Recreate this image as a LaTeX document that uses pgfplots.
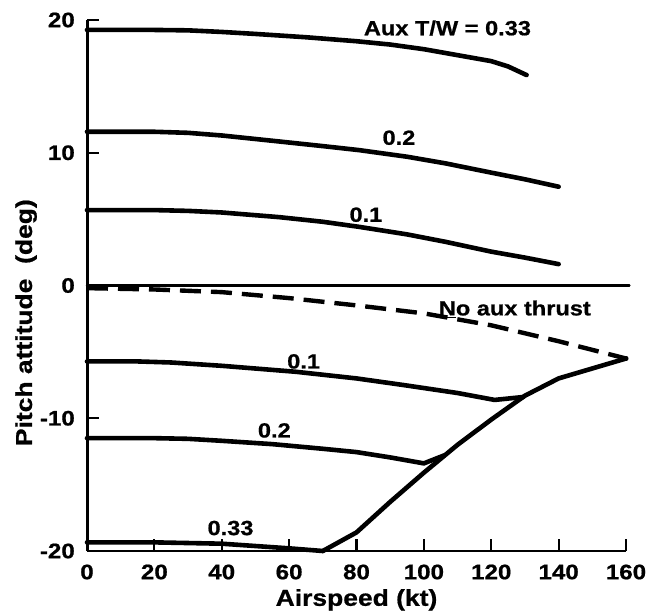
\documentclass[border=0pt]{standalone}
\usepackage{fontspec}
\setmainfont{Liberation Sans}[FakeStretch=1.15, BoldFeatures={FakeBold=0.8}]
\usepackage{pgfplots}
\pgfplotsset{compat=1.18}
\newcommand{\lbl}{\bfseries\fontsize{20.5}{23}\selectfont}
\newcommand{\tlbl}{\bfseries\fontsize{21}{24}\selectfont}
\newcommand{\albl}{\bfseries\fontsize{23}{26}\selectfont}
\begin{document}
\begin{tikzpicture}[x=1pt,y=1pt]
\useasboundingbox (0,0) rectangle (663,612);
\begin{axis}[
  at={(87pt,61pt)}, anchor=south west,
  scale only axis, width=539pt, height=531pt,
  xmin=0, xmax=160, ymin=-20, ymax=20,
  clip=false,
  axis x line*=bottom, axis y line*=left,
  x axis line style={line width=2.5pt,-},
  y axis line style={line width=3pt,-},
  xtick={0,20,40,60,80,100,120,140,160},
  xticklabels={0,20,40,60,80,100,120,140,160},
  ytick={-20,-10,0,10,20},
  yticklabels={-20,-10,0,10,20},
  tick align=inside,
  major tick length=12pt,
  tick style={line width=2.2pt, black},
  xticklabel style={font=\tlbl, anchor=center, inner sep=0pt, yshift=-21pt},
  yticklabel style={font=\tlbl, anchor=east, inner sep=0pt, xshift=-12pt},
  xlabel={Airspeed (kt)},
  ylabel={Pitch attitude\ \ (deg)},
  xlabel style={font=\albl, at={(axis description cs:0.5,-0.092)}, anchor=center},
  ylabel style={font=\albl, at={(axis description cs:-0.113,0.43)}, anchor=center},
  every axis plot/.append style={line join=round, line cap=round},
]
% zero line
\addplot[black, line width=2.5pt] coordinates {(0,0) (161,0)};
% upper curves
\addplot[black, line width=4.6pt] coordinates {(0,19.25) (20,19.25) (30,19.22) (40,19.1) (50,18.95) (65,18.7) (80,18.4) (90,18.15) (100,17.8) (110,17.35) (120,16.9) (125,16.5) (130.5,15.85)};
\addplot[black, line width=4.6pt] coordinates {(0,11.58) (20,11.58) (30,11.5) (40,11.3) (57,10.85) (70,10.5) (80.7,10.2) (95,9.7) (106.4,9.2) (120,8.5) (130,8.0) (140,7.44)};
\addplot[black, line width=4.6pt] coordinates {(0,5.68) (20,5.68) (30,5.62) (40,5.5) (57,5.15) (70,4.8) (80.7,4.42) (95,3.85) (106.4,3.29) (120,2.55) (130,2.1) (140,1.61)};
% no aux thrust
\addplot[black, line width=4.4pt, line cap=butt, dash pattern=on 21pt off 10pt] coordinates {(0,-0.2) (20,-0.3) (40,-0.5) (60,-0.95) (80,-1.5) (100,-2.1) (120,-3.0) (140,-4.2) (160,-5.5)};
\addplot[black, only marks, mark=o, mark size=2pt, line width=1pt] coordinates {(160,-5.5)};
% envelope
\addplot[black, line width=4.6pt] coordinates {(70,-20) (80,-18.6) (90,-16.3) (100,-14.1) (110,-12.0) (120,-10.1) (130,-8.3) (140,-7.0) (160,-5.5)};
% lower curves
\addplot[black, line width=4.6pt] coordinates {(0,-5.72) (15,-5.72) (25,-5.8) (40,-6.05) (62,-6.5) (80,-7.0) (94,-7.5) (110,-8.1) (121,-8.62) (129.5,-8.4)};
\addplot[black, line width=4.6pt] coordinates {(0,-11.5) (20,-11.5) (30,-11.55) (40,-11.7) (55,-11.95) (70,-12.3) (80,-12.55) (90,-12.95) (100,-13.4) (106,-12.8)};
\addplot[black, line width=4.6pt] coordinates {(0,-19.35) (20,-19.35) (40,-19.45) (60,-19.8) (70,-20)};
% labels
\node[anchor=base, font=\lbl] at (axis cs:107,18.85) {Aux T/W = 0.33};
\node[anchor=base, font=\lbl] at (axis cs:92.6,10.6) {0.2};
\node[anchor=base, font=\lbl] at (axis cs:82.8,4.8) {0.1};
\node[anchor=base, font=\lbl] at (axis cs:127,-2.25) {\underline{N}o aux thrust};
\node[anchor=base, font=\lbl] at (axis cs:64.3,-6.25) {0.1};
\node[anchor=base, font=\lbl] at (axis cs:55.6,-11.45) {0.2};
\node[anchor=base, font=\lbl] at (axis cs:42.6,-18.8) {0.33};
\end{axis}
\end{tikzpicture}
\end{document}
